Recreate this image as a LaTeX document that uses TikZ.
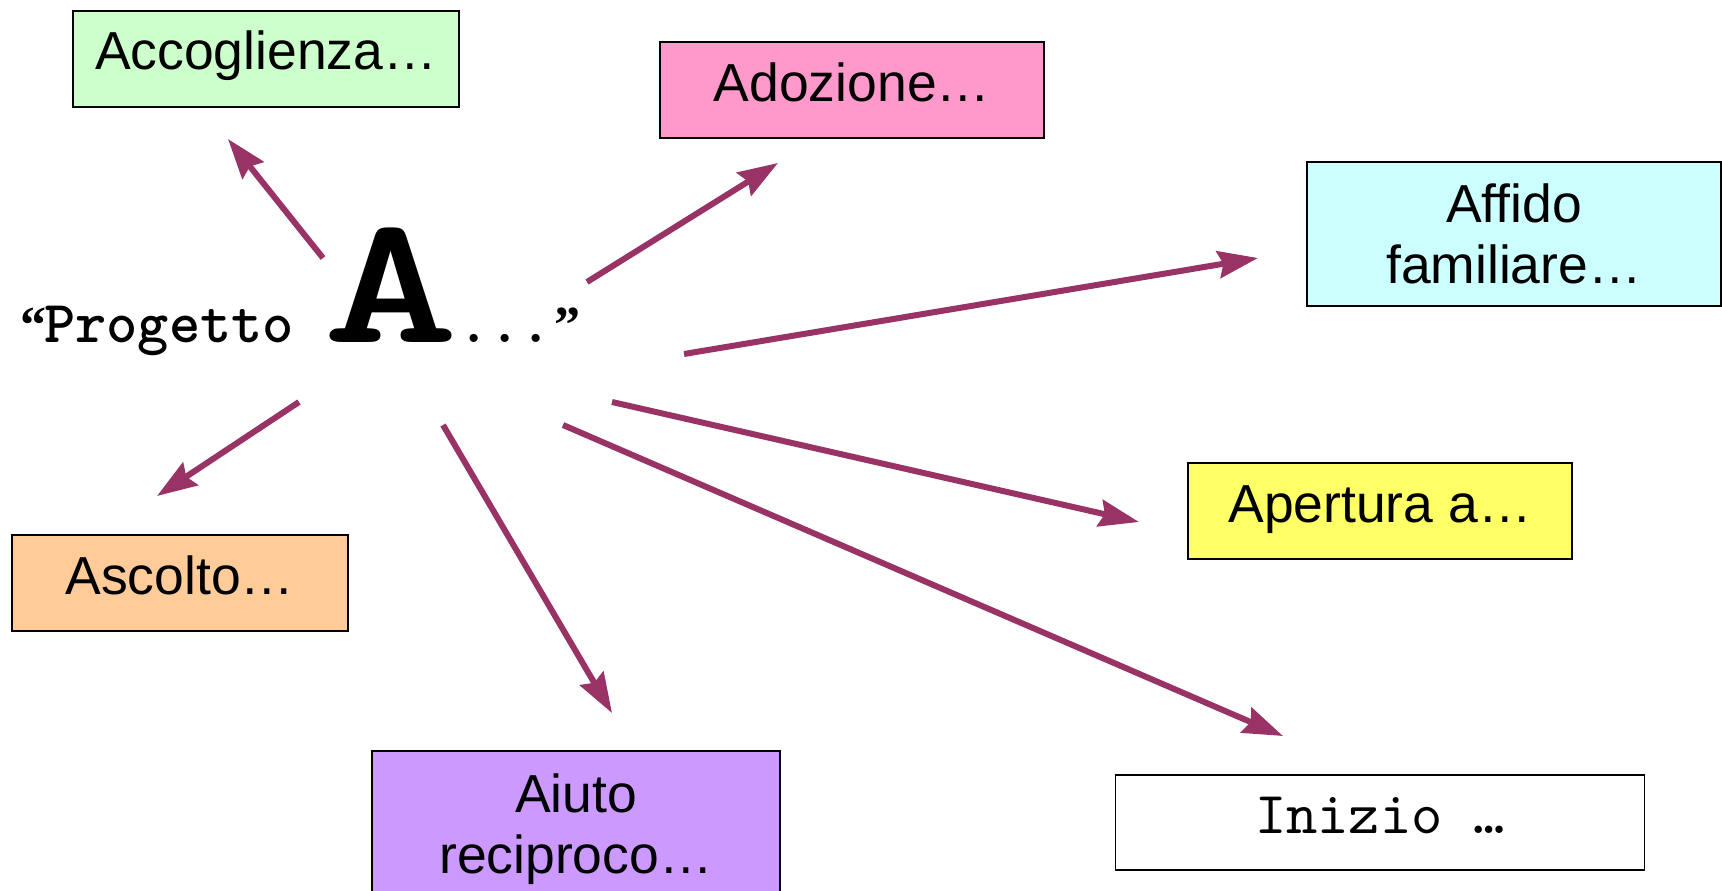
\documentclass[tikz,border=0pt]{standalone}
\usepackage{fontspec}
\usepackage{graphicx}
\setmainfont{Liberation Sans}
\newfontfamily\monofam{lmmono10-regular.otf}[BoldFont=lmmonolt10-bold.otf]
\newfontfamily\quotefam{Liberation Serif}
\usetikzlibrary{arrows.meta}
\definecolor{arr}{HTML}{993366}
\definecolor{cacc}{HTML}{CCFFCC}
\definecolor{cado}{HTML}{FF99CC}
\definecolor{caff}{HTML}{CCFFFF}
\definecolor{cape}{HTML}{FFFF66}
\definecolor{casc}{HTML}{FFCC99}
\definecolor{caiu}{HTML}{CC99FF}
\tikzset{
  box/.style={draw=black, line width=1.8pt, rectangle, inner sep=0pt, outer sep=0pt,
    font=\fontsize{53.5}{61}\selectfont},
  onebox/.style={box, text height=37pt, text depth=15pt},
  link/.style={draw=arr, line width=6pt, -{Stealth[length=40pt, width=27pt, inset=5pt]}},
}
\begin{document}
\begin{tikzpicture}[x=1pt, y=-1pt]
\useasboundingbox (0,0) rectangle (1722,891);
\fill[white] (0,0) rectangle (1722,891);

\node[onebox, fill=cacc, minimum width=386pt, minimum height=96pt] (acc) at (266,59) {Accoglienza…};
\node[onebox, fill=cado, minimum width=384pt, minimum height=96pt] (ado) at (852,90) {Adozione…};
\node[box, fill=caff, minimum width=414pt, minimum height=144pt, align=center] (aff) at (1514,234) {Affido\\familiare…};
\node[onebox, fill=cape, minimum width=384pt, minimum height=96pt] (ape) at (1380,511) {Apertura a…};
\node[onebox, fill=casc, minimum width=336pt, minimum height=96pt] (asc) at (180,583) {Ascolto…};
\node[box, fill=caiu, minimum width=408pt, minimum height=157pt, align=center] (aiu) at (576,829.5) {Aiuto\\reciproco…};
\node[box, fill=white, minimum width=529pt, minimum height=95pt,
  font=\monofam\fontsize{59.5}{59.5}\selectfont, text height=36pt, text depth=14pt] (ini) at (1380,822.5) {Inizio …};

\node[anchor=base west, inner sep=0pt] (prog) at (20,342)
  {\makebox[24pt][l]{\quotefam\bfseries\fontsize{52}{52}\selectfont “}%
   {\monofam\bfseries\fontsize{59.5}{59.5}\selectfont Progetto}%
   \hspace{29pt}%
   {\monofam\bfseries\fontsize{184}{184}\selectfont\scalebox{1.4}[1]{A}}%
   {\monofam\bfseries\fontsize{59.5}{59.5}\selectfont ...}%
   \hspace{2pt}{\quotefam\bfseries\fontsize{52}{52}\selectfont ”}};

\coordinate (s1) at (323,258);  \coordinate (t1) at (228,139);
\coordinate (s2) at (587,282);  \coordinate (t2) at (778,163);
\coordinate (s3) at (684,354);  \coordinate (t3) at (1258,258);
\coordinate (s4) at (612,402);  \coordinate (t4) at (1139,522);
\coordinate (s5) at (563,425);  \coordinate (t5) at (1283,736);
\coordinate (s6) at (443,425);  \coordinate (t6) at (612,713);
\coordinate (s7) at (299,402);  \coordinate (t7) at (157,496);

\draw[link] (s1) -- (t1);
\draw[link] (s2) -- (t2);
\draw[link] (s3) -- (t3);
\draw[link] (s4) -- (t4);
\draw[link] (s5) -- (t5);
\draw[link] (s6) -- (t6);
\draw[link] (s7) -- (t7);
\end{tikzpicture}
\end{document}
